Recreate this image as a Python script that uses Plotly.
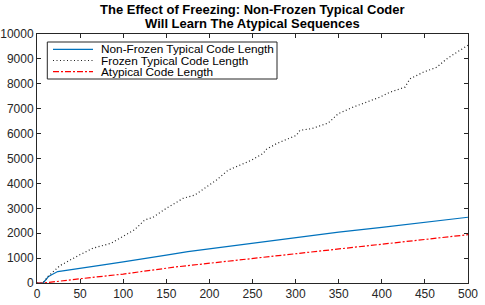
import plotly.graph_objects as go

# Non-Frozen Typical Code Length (blue, solid)
blue_x = [0, 7, 10, 13, 17, 20, 24, 30, 50, 75, 100, 125, 150, 175, 200, 250, 300, 350, 400, 450, 500]
blue_y = [0, 0, 120, 250, 330, 380, 460, 490, 580, 720, 850, 1000, 1120, 1260, 1370, 1600, 1830, 2040, 2230, 2430, 2640]

# Frozen Typical Code Length (black, dotted)
frozen_x = [0, 7, 12.8, 18.6, 22.5, 26.4, 49.6, 65, 86.3, 100, 113, 125, 134.7, 150, 169.5, 183, 194.7,
            208.2, 221.7, 235.3, 248.9, 262.4, 266.3, 278, 301, 305, 318.6, 337.8, 349.5, 366.8, 386.2,
            397.8, 409.5, 426.9, 432.7, 448, 463.7, 475.3, 486.9, 496.5, 500]
frozen_y = [0, 0, 264, 464, 600, 692, 1132, 1400, 1600, 1866, 2132, 2532, 2640, 3000, 3400, 3532, 3800,
            4132, 4532, 4732, 4932, 5200, 5372, 5600, 5932, 6132, 6200, 6424, 6800, 7064, 7304,
            7464, 7664, 7864, 8200, 8464, 8664, 9000, 9264, 9492, 9550]

# Atypical Code Length (red, dash-dot)
atyp_x = [0, 8, 50, 100, 160, 250, 334, 400, 450, 500]
atyp_y = [0, 0, 170, 360, 640, 990, 1307, 1560, 1750, 1940]

series_names = ["Non-Frozen Typical Code Length", "Frozen Typical Code Length", "Atypical Code Length"]
title_lines = ["The Effect of Freezing: Non-Frozen Typical Coder", "Will Learn The Atypical Sequences"]
x_ticks = list(range(0, 501, 50))
y_ticks = list(range(0, 10001, 1000))

FONT = "Liberation Sans, Arial, Helvetica, sans-serif"
W, H = 485, 305
# target plot area in window pixels: left 37, top 34, right 468, bottom 283
ML, MT = 37, 34
MR, MB = W - 468, H - 283
PW, PH = W - ML - MR, H - MT - MB

def px(x):  # window pixel -> paper
    return (x - ML) / PW

def py(y):
    return (H - MB - y) / PH

styles = [
    dict(color="#0072BD", width=1.2),
    dict(color="#222222", width=1.2, dash="1px,2.5px"),
    dict(color="#FF0000", width=1.2, dash="6px,2px,2px,2px"),
]

fig = go.Figure()
for (xs, ys), name, st in zip([(blue_x, blue_y), (frozen_x, frozen_y), (atyp_x, atyp_y)], series_names, styles):
    fig.add_trace(go.Scatter(x=xs, y=ys, mode="lines", name=name, line=st, showlegend=False))

axis_common = dict(showgrid=False, zeroline=False, showline=True, linecolor="#262626", linewidth=1,
                   mirror="ticks", ticks="inside", ticklen=4, tickcolor="#262626", tickwidth=1,
                   tickfont=dict(family=FONT, size=12, color="#262626"), tickformat="d",
                   automargin=False)

fig.update_xaxes(range=[0, 500], tickvals=x_ticks, **axis_common)
fig.update_yaxes(range=[0, 10000], tickvals=y_ticks, **axis_common)

# Manual legend (compact like the reference)
shapes = [dict(type="rect", xref="paper", yref="paper", x0=px(47.3), x1=px(277), y0=py(79), y1=py(42),
               line=dict(color="#262626", width=1), fillcolor="white", layer="above")]
annotations = []
for i, (name, st) in enumerate(zip(series_names, styles)):
    yc = [49.3, 60.5, 71.7][i]
    shapes.append(dict(type="line", xref="paper", yref="paper", x0=px(53), x1=px(93), y0=py(yc), y1=py(yc),
                       line=st, layer="above"))
    annotations.append(dict(text=name, xref="paper", yref="paper", x=px(98.5), y=py(yc), xanchor="left",
                            yanchor="middle", showarrow=False, font=dict(family=FONT, size=11.8, color="black")))

for i, t in enumerate(title_lines):
    annotations.append(dict(text="<b>" + t + "</b>", xref="paper", yref="paper", x=px(252.5), y=py([10, 24][i]),
                            xanchor="center", yanchor="middle", showarrow=False,
                            font=dict(family=FONT, size=13, color="black")))

fig.update_layout(
    width=W, height=H,
    margin=dict(l=ML, r=MR, t=MT, b=MB, autoexpand=False),
    paper_bgcolor="white", plot_bgcolor="white",
    showlegend=False,
    shapes=shapes, annotations=annotations,
)

fig.write_html("out.html", config={"displayModeBar": False},
               post_script="document.body.style.margin='0px';")
